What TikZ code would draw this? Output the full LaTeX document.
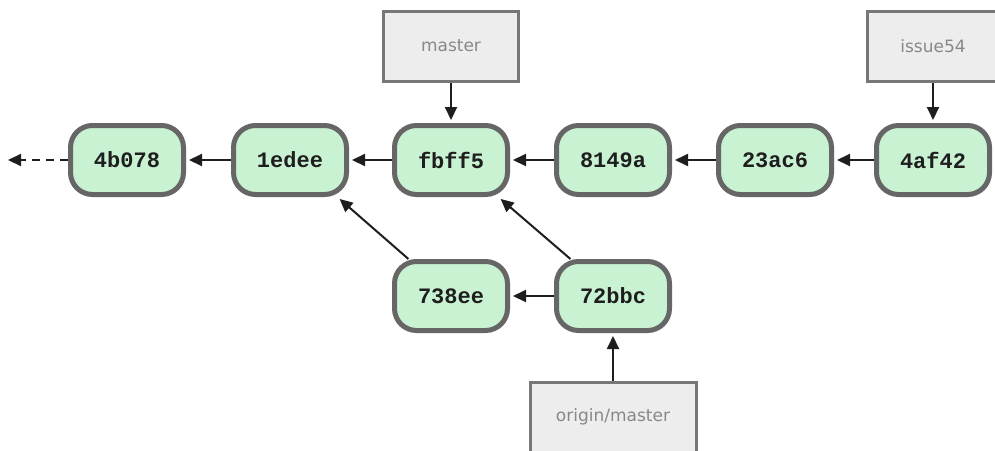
\documentclass[tikz,border=0pt]{standalone}
\usepackage{fontspec}
\setmainfont{DejaVu Sans}
\newfontfamily\monof{Liberation Mono}
\usetikzlibrary{arrows.meta}
\definecolor{cfill}{HTML}{C9F2D2}
\definecolor{cborder}{HTML}{666666}
\definecolor{ctext}{HTML}{1E1E1E}
\definecolor{lfill}{HTML}{EDEDED}
\definecolor{lborder}{HTML}{777777}
\definecolor{ltext}{HTML}{888888}
\definecolor{arrc}{HTML}{1E1E1E}
\begin{document}
\begin{tikzpicture}[x=1pt,y=-1pt,
  commit/.style={draw=cborder, fill=cfill, line width=5pt, rounded corners=22pt,
    minimum width=113pt, minimum height=69pt, inner sep=0pt,
    font=\monof\bfseries\fontsize{22}{24}\selectfont, text=ctext},
  branch/.style={draw=lborder, fill=lfill, line width=3pt, minimum width=135pt,
    minimum height=70pt, inner sep=0pt, font=\fontsize{17}{19}\selectfont, text=ltext},
  arr/.style={-{Triangle[length=13pt,width=12pt]}, line width=2pt, draw=arrc, shorten >=3pt}]
\useasboundingbox (0,0) rectangle (995,450);
\clip (0,0) rectangle (995,450);
\fill[white] (0,0) rectangle (995,450);
% commits
\node[commit] (c4b078) at (127,160) {4b078};
\node[commit] (c1edee) at (290,160) {1edee};
\node[commit] (cfbff5) at (451,160) {fbff5};
\node[commit] (c8149a) at (613,160) {8149a};
\node[commit] (c23ac6) at (775,160) {23ac6};
\node[commit] (c4af42) at (933,160) {4af42};
\node[commit] (c738ee) at (451,296) {738ee};
\node[commit] (c72bbc) at (613,296) {72bbc};
% branches
\node[branch] (master) at (451,46) {master};
\node[branch, minimum width=132pt] (issue) at (933,46) {issue54};
\node[branch, minimum width=166pt] (origin) at (613,417) {origin/master};
\coordinate (tail) at (8,160);
% arrows
\draw[arr, dashed, dash pattern=on 8pt off 6pt, shorten >=0pt] (c4b078.west) -- (tail);
\draw[arr] (c1edee.west) -- (c4b078.east);
\draw[arr] (cfbff5.west) -- (c1edee.east);
\draw[arr] (c8149a.west) -- (cfbff5.east);
\draw[arr] (c23ac6.west) -- (c8149a.east);
\draw[arr] (c4af42.west) -- (c23ac6.east);
\draw[arr] (c72bbc.west) -- (c738ee.east);
\draw[arr] (c738ee.139) -- (c1edee.-38);
\draw[arr] (c72bbc.139) -- (cfbff5.-38);
\draw[arr] (master.south) -- (cfbff5.north);
\draw[arr] (issue.south) -- (c4af42.north);
\draw[arr] (origin.north) -- (c72bbc.south);
\end{tikzpicture}
\end{document}
